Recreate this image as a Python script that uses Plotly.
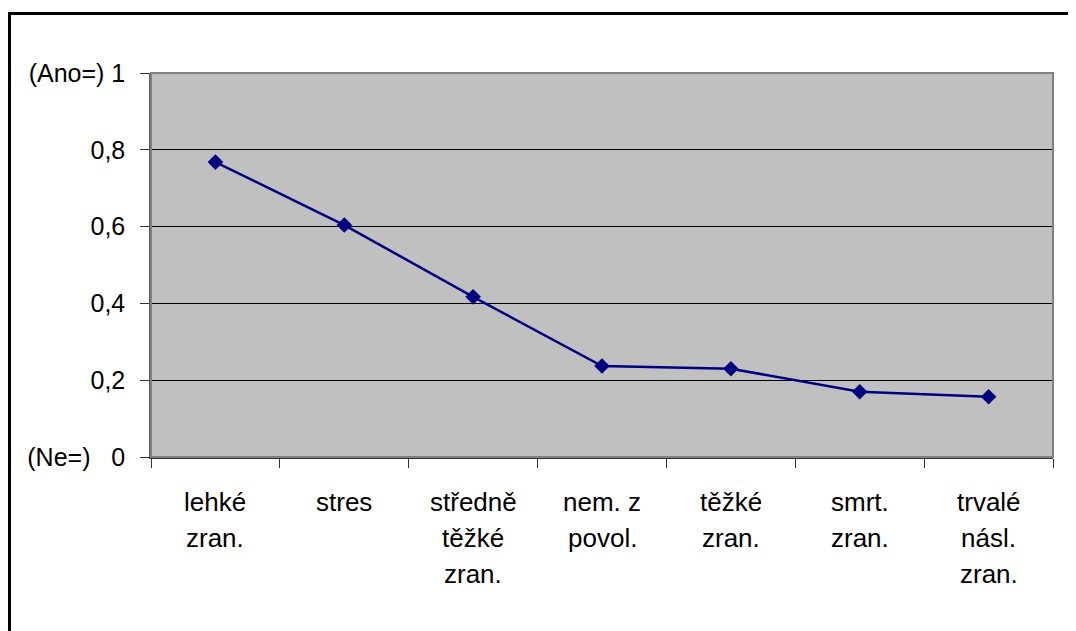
import plotly.graph_objects as go

categories = ["lehké\nzran.", "stres", "středně\ntěžké\nzran.", "nem. z\npovol.",
              "těžké\nzran.", "smrt.\nzran.", "trvalé\nnásl.\nzran."]
values = [0.768, 0.604, 0.417, 0.237, 0.230, 0.170, 0.157]
y_tickvals = [0, 0.2, 0.4, 0.6, 0.8, 1]
y_ticktext = ["(Ne=)\u00a0\u00a0\u00a00", "0,2", "0,4", "0,6", "0,8", "(Ano=) 1"]

# page body has an 8px margin, so figure coords = window coords - 8
OFF = 8
W, H = 1076, 631
L, T = 151 - OFF, 73 - OFF
R = W - (1053 - OFF)
B = H - (457 - OFF)
pw, ph = W - L - R, H - T - B

font = dict(family="Liberation Sans, Arial, sans-serif", size=25, color="black")
xfont = dict(family="Liberation Sans, Arial, sans-serif", size=26, color="black")

fig = go.Figure()
fig.add_trace(go.Scatter(
    x=list(range(len(categories))), y=values, mode="lines+markers",
    line=dict(color="#000080", width=2.5),
    marker=dict(symbol="diamond", size=12, color="#000080"),
    showlegend=False, hoverinfo="skip"))

annotations = []
for i, lab in enumerate(categories):
    for j, line in enumerate(lab.split("\n")):
        annotations.append(dict(
            x=i, xref="x", y=0, yref="paper", yanchor="middle", xanchor="center",
            yshift=-(45 + j * 36), text=line, showarrow=False, font=xfont))

# outer border in figure px (left line center ~1.5, top line center ~5.5)
bx0, by0 = 1.5, 5.5
shapes = [
    dict(type="rect", xref="paper", yref="paper", x0=0, x1=1, y0=0, y1=1,
         line=dict(color="#808080", width=2), layer="above"),
    dict(type="rect", xref="paper", yref="paper",
         x0=(bx0 - L) / pw, x1=(W + 20 - L) / pw,
         y0=-(H + 20 - (T + ph)) / ph, y1=(T + ph - by0) / ph,
         line=dict(color="black", width=3), fillcolor="rgba(0,0,0,0)", layer="above"),
]

fig.update_layout(
    width=W, height=H,
    margin=dict(l=L, r=R, t=T, b=B, pad=0),
    paper_bgcolor="white", plot_bgcolor="#c0c0c0",
    font=font,
    annotations=annotations, shapes=shapes,
    xaxis=dict(range=[-0.5, len(categories) - 0.5], tickvals=[i - 0.5 for i in range(len(categories) + 1)],
               showticklabels=False, ticks="outside", ticklen=9, tickcolor="#333333", tickwidth=1,
               showgrid=False, zeroline=False, showline=True, linecolor="#333333", linewidth=1.5),
    yaxis=dict(range=[0, 1], tickvals=y_tickvals, ticktext=y_ticktext,
               ticks="outside", ticklen=9, tickcolor="#333333", tickwidth=1,
               showgrid=True, gridcolor="black", gridwidth=1, zeroline=False,
               showline=True, linecolor="#555555", linewidth=1.5,
               ticklabelstandoff=10, tickfont=font),
)

fig.write_html("out.html")
